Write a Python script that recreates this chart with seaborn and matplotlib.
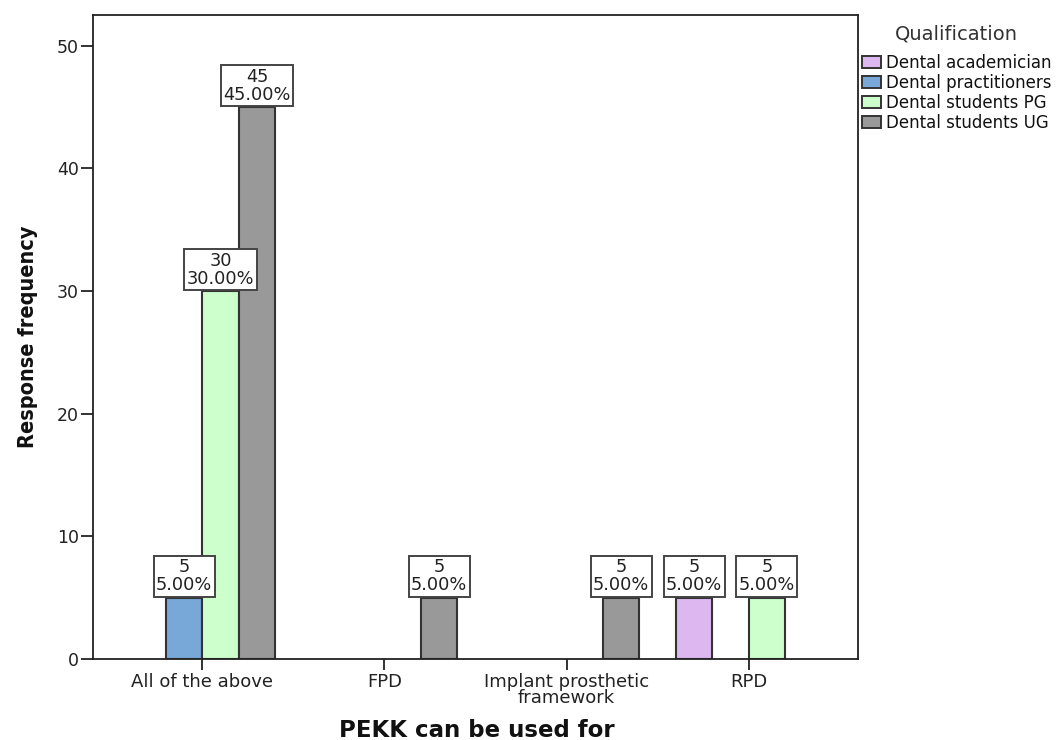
import matplotlib
matplotlib.use("Agg")
import matplotlib.pyplot as plt
from matplotlib.patches import Patch
import seaborn as sns
import pandas as pd

# ---- data ----
categories = ["All of the above", "FPD", "Implant prosthetic\nframework", "RPD"]
qualifications = ["Dental academician", "Dental practitioners",
                  "Dental students PG", "Dental students UG"]
academician = [0, 0, 0, 5]
practitioners = [5, 0, 0, 0]
students_pg = [30, 0, 0, 5]
students_ug = [45, 5, 5, 0]
colors = ["#DDB8F0", "#78A8D8", "#CCFFCC", "#999999"]

series = [academician, practitioners, students_pg, students_ug]
total = sum(sum(s) for s in series)
rows = []
for q, vals in zip(qualifications, series):
    for c, v in zip(categories, vals):
        rows.append({"use": c, "qual": q, "count": v})
df = pd.DataFrame(rows)

sns.set_style("ticks")
plt.rcParams["font.family"] = ["DejaVu Sans"]

fig = plt.figure(figsize=(10.61, 7.40), dpi=100)
ax = fig.add_axes([93 / 1061, 81 / 740, 765 / 1061, 644 / 740])

sns.barplot(data=df, x="use", y="count", hue="qual", order=categories,
            hue_order=qualifications, palette=colors, saturation=1,
            edgecolor="#333333", linewidth=1.5, errorbar=None, width=0.8,
            legend=False, ax=ax)

# hide empty bars, add value labels
for cont, vals in zip(ax.containers, series):
    for bar, v in zip(cont, vals):
        if v == 0:
            bar.set_visible(False)
            continue
        x = bar.get_x() + bar.get_width() / 2
        h = bar.get_height()
        pct = v / total * 100
        ax.annotate(f"{v}\n{pct:.2f}%", xy=(x, h), xytext=(0, 2.4),
                    textcoords="offset points", ha="center", va="bottom",
                    fontsize=12.8, color="#222222", linespacing=1.0,
                    bbox=dict(boxstyle="square,pad=0.13", fc="white",
                              ec="#444444", lw=1.4), zorder=5)

ax.set_xlim(-0.6, 3.6)
ax.set_ylim(0, 52.5)
ax.set_yticks([0, 10, 20, 30, 40, 50])

for s in ax.spines.values():
    s.set_visible(True)
    s.set_color("#222222")
    s.set_linewidth(1.3)

ax.tick_params(axis="y", direction="out", length=9, width=1.3, pad=1,
               labelsize=12.5, colors="#222222")
ax.tick_params(axis="x", direction="out", length=8, width=1.3, pad=2,
               labelsize=13, colors="#222222")
for lab in ax.get_xticklabels():
    lab.set_linespacing(0.88)

ax.set_xlabel("PEKK can be used for", fontsize=16.5, fontweight="bold",
              color="#111111")
ax.xaxis.label.set_va("baseline")
ax.xaxis.set_label_coords(0.502, -0.1211)

ax.set_ylabel("Response frequency", fontsize=17, fontweight="bold",
              color="#111111", fontstretch="condensed")
ax.yaxis.set_label_coords(-0.0719, 0.5008)

handles = [Patch(facecolor=c, edgecolor="#333333", linewidth=1.4) for c in colors]
leg = ax.legend(handles, qualifications, title="Qualification",
                loc="upper left", bbox_to_anchor=(862 / 1061, 1 - 25 / 740),
                bbox_transform=fig.transFigure, frameon=False, fontsize=12,
                title_fontsize=14, labelspacing=0.12, handlelength=1.12,
                handleheight=0.78, handletextpad=0.3, borderpad=0,
                borderaxespad=0)
leg.get_title().set_color("#333333")
for t in leg.get_texts():
    t.set_color("#111111")
try:
    leg._legend_box.sep = 7
except Exception:
    pass

# fit the y-label length to the reference (about 223 px)
fig.canvas.draw()
r = fig.canvas.get_renderer()
ext = ax.yaxis.label.get_window_extent(r)
if ext.height > 0:
    ax.yaxis.label.set_fontsize(17 * 223 / ext.height)

fig.savefig("out.png", dpi=100, facecolor="white")
